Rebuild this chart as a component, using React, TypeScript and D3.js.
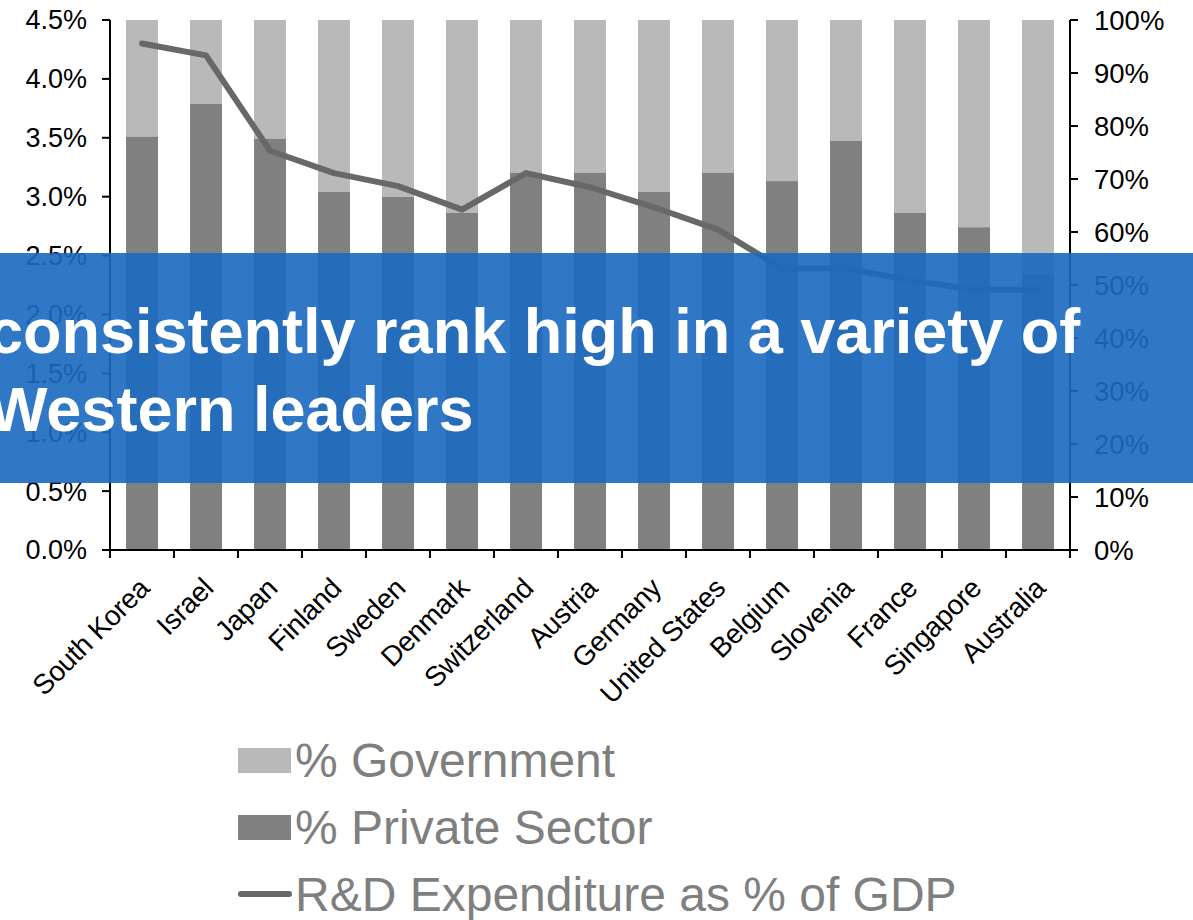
import React from "react";
import * as d3 from "d3";

const categories = [
  "South Korea", "Israel", "Japan", "Finland", "Sweden", "Denmark", "Switzerland",
  "Austria", "Germany", "United States", "Belgium", "Slovenia", "France", "Singapore", "Australia",
];
// share of R&D funded by private sector (right axis, fraction)
const privateShare = [0.78, 0.842, 0.776, 0.676, 0.666, 0.636, 0.712, 0.712, 0.676, 0.712, 0.696, 0.772, 0.636, 0.609, 0.52];
// R&D expenditure as % of GDP (left axis, fraction)
const rdGdp = [0.0430, 0.0420, 0.0339, 0.0320, 0.0309, 0.0289, 0.0320, 0.0308, 0.0291, 0.0272, 0.0239, 0.0239, 0.0229, 0.0221, 0.0221];
const leftTicks = [0, 0.005, 0.01, 0.015, 0.02, 0.025, 0.03, 0.035, 0.04, 0.045];
const rightTicks = [0, 0.1, 0.2, 0.3, 0.4, 0.5, 0.6, 0.7, 0.8, 0.9, 1.0];
const legendItems = ["% Government", "% Private Sector", "R&D Expenditure as % of GDP"];
const bannerLines = ["consistently rank high in a variety of", "Western leaders"];

const FONT = "'Liberation Sans', Arial, Helvetica, sans-serif";
const LIGHT = "#b9b9b9";
const DARK = "#808080";
const LINE = "#686868";

export default function App() {
  const W = 1193, H = 920;
  const x0 = 110, x1 = 1070, yTop = 20, yBot = 550;
  const x = d3.scaleBand<string>().domain(categories).range([x0, x1]).paddingInner(0.5).paddingOuter(0.25);
  const yL = d3.scaleLinear().domain([0, 0.045]).range([yBot, yTop]);
  const yR = d3.scaleLinear().domain([0, 1]).range([yBot, yTop]);
  const step = x.step();
  const line = d3.line<number>()
    .x((_, i) => (x(categories[i]) as number) + x.bandwidth() / 2)
    .y((d) => yL(d));
  const fmtL = d3.format(".1%");
  const fmtR = d3.format(".0%");

  return (
    <svg width={W} height={H} style={{ position: "absolute", left: 0, top: 0, background: "#fff" }} fontFamily={FONT}>
      {/* bars */}
      {categories.map((c, i) => {
        const bx = x(c) as number;
        return (
          <g key={c}>
            <rect x={bx} y={yR(1)} width={x.bandwidth()} height={yR(privateShare[i]) - yR(1)} fill={LIGHT} />
            <rect x={bx} y={yR(privateShare[i])} width={x.bandwidth()} height={yR(0) - yR(privateShare[i])} fill={DARK} />
          </g>
        );
      })}
      {/* line */}
      <path d={line(rdGdp) || ""} fill="none" stroke={LINE} strokeWidth={6} strokeLinejoin="round" strokeLinecap="round" />

      {/* left axis */}
      <line x1={x0} x2={x0} y1={yTop} y2={yBot} stroke="#000" strokeWidth={2} />
      {leftTicks.map((t) => (
        <g key={"l" + t}>
          <line x1={x0 - 8} x2={x0} y1={yL(t)} y2={yL(t)} stroke="#000" strokeWidth={2} />
          <text x={87} y={yL(t)} dy="0.35em" textAnchor="end" fontSize={27} fill="#000">{fmtL(t)}</text>
        </g>
      ))}
      {/* right axis */}
      <line x1={x1} x2={x1} y1={yTop} y2={yBot} stroke="#000" strokeWidth={2} />
      {rightTicks.map((t) => (
        <g key={"r" + t}>
          <line x1={x1} x2={x1 + 8} y1={yR(t)} y2={yR(t)} stroke="#000" strokeWidth={2} />
          <text x={1094} y={yR(t)} dy="0.35em" textAnchor="start" fontSize={27.5} fill="#000">{fmtR(t)}</text>
        </g>
      ))}
      {/* bottom axis */}
      <line x1={x0} x2={x1} y1={yBot} y2={yBot} stroke="#000" strokeWidth={2} />
      {d3.range(categories.length + 1).map((i) => (
        <line key={"b" + i} x1={x0 + i * step} x2={x0 + i * step} y1={yBot} y2={yBot + 8} stroke="#000" strokeWidth={2} />
      ))}
      {categories.map((c) => {
        const cx = (x(c) as number) + x.bandwidth() / 2;
        return (
          <text key={"t" + c} transform={`translate(${cx + 2},${yBot + 33}) rotate(-45)`} textAnchor="end" dy="0.35em" fontSize={28} letterSpacing={-0.4} fill="#000">
            {c}
          </text>
        );
      })}

      {/* legend */}
      <rect x={238} y={748} width={53} height={25} fill={LIGHT} />
      <rect x={238} y={815} width={53} height={25} fill={DARK} />
      <line x1={241} x2={289} y1={894} y2={894} stroke={LINE} strokeWidth={6} strokeLinecap="round" />
      {legendItems.map((t, i) => (
        <text key={t} x={295} y={777 + i * 67} fontSize={48} fill="#7f7f7f">{t}</text>
      ))}

      {/* overlay banner */}
      <rect x={0} y={253} width={W} height={230} fill="#1b6bbf" opacity={0.91} />
      {bannerLines.map((t, i) => (
        <text key={t} x={-12} y={353 + i * 78} fontSize={63} fontWeight="bold" fill="#fff">{t}</text>
      ))}
    </svg>
  );
}
